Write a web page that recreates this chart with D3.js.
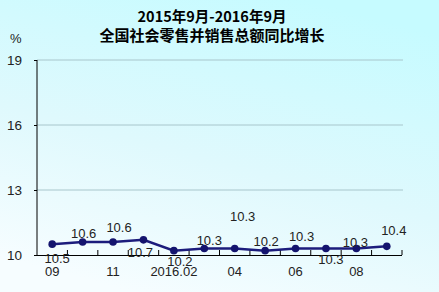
<!DOCTYPE html>
<html>
<head>
<meta charset="utf-8">
<script src="https://cdn.jsdelivr.net/npm/d3@7"></script>
<style>
  html, body { margin: 0; padding: 0; }
  svg { display: block; font-family: "Liberation Sans", Arial, sans-serif; }
</style>
</head>
<body>
<div id="app"></div>
<script>
// data
var months = ['09', '10', '11', '12', '2016.02', '03', '04', '05', '06', '07', '08', '09b'];
var monthLabels = ['09', '', '11', '', '2016.02', '', '04', '', '06', '', '08', ''];
var growth = [10.5, 10.6, 10.6, 10.7, 10.2, 10.3, 10.3, 10.2, 10.3, 10.3, 10.3, 10.4];
var yTicks = [10, 13, 16, 19];
var titleLines = ['2015年9月-2016年9月', '全国社会零售并销售总额同比增长'];

var W = 439, H = 292;
var svg = d3.select('#app').append('svg')
    .attr('width', W)
    .attr('height', H);

var defs = svg.append('defs');
var grad = defs.append('linearGradient')
    .attr('id', 'bg')
    .attr('x1', '0.7').attr('y1', '0')
    .attr('x2', '0.3').attr('y2', '1');
grad.append('stop').attr('offset', '0%').attr('stop-color', '#c6fbff');
grad.append('stop').attr('offset', '55%').attr('stop-color', '#dff9fd');
grad.append('stop').attr('offset', '100%').attr('stop-color', '#f6fdff');
svg.append('rect').attr('width', W).attr('height', H).attr('fill', 'url(#bg)');

var x = d3.scaleBand().domain(months).range([37, 402]);
var y = d3.scaleLinear().domain([10, 19]).range([255, 60]);

// title
svg.selectAll('.title')
    .data(titleLines)
    .enter()
    .append('text')
    .attr('x', 212)
    .attr('y', function (d, i) { return 22 + i * 19; })
    .attr('text-anchor', 'middle')
    .style('font-family', '"Noto Sans CJK SC", "Liberation Sans", sans-serif')
    .style('font-weight', 'bold')
    .style('font-size', function (d, i) { return i ? '15px' : '14.5px'; })
    .text(function (d) { return d; });

svg.append('text')
    .attr('x', 10).attr('y', 43)
    .style('font-size', '13px')
    .attr('fill', '#222')
    .text('%');

// grid
svg.selectAll('.grid')
    .data(yTicks.slice(1))
    .enter()
    .append('line')
    .attr('x1', 37).attr('x2', 403)
    .attr('y1', function (d) { return y(d); })
    .attr('y2', function (d) { return y(d); })
    .attr('stroke', '#a8c6cc')
    .attr('stroke-width', 1);

// y axis
var yAxis = svg.append('g')
    .attr('transform', 'translate(37,0)')
    .call(d3.axisLeft(y).tickValues(yTicks).tickSize(3).tickPadding(12).tickFormat(d3.format('d')));
yAxis.select('.domain').attr('stroke', '#000').attr('d', 'M0,60V255');
yAxis.selectAll('text').style('font-size', '13.5px').attr('fill', '#222');

// x axis: ticks at band boundaries pointing up
var bounds = months.map(function (m) { return x(m) + x.bandwidth(); });
svg.append('line')
    .attr('x1', 37).attr('x2', 402)
    .attr('y1', 255.5).attr('y2', 255.5)
    .attr('stroke', '#000');
svg.selectAll('.xtick')
    .data(bounds)
    .enter()
    .append('line')
    .attr('x1', function (d) { return d; })
    .attr('x2', function (d) { return d; })
    .attr('y1', 255).attr('y2', 250)
    .attr('stroke', '#000');
svg.selectAll('.xlab')
    .data(months)
    .enter()
    .append('text')
    .attr('x', function (d) { return x(d) + x.bandwidth() / 2; })
    .attr('y', 276)
    .attr('text-anchor', 'middle')
    .style('font-size', '13px')
    .attr('fill', '#222')
    .text(function (d, i) { return monthLabels[i]; });

// line
var line = d3.line()
    .x(function (d, i) { return x(months[i]) + x.bandwidth() / 2; })
    .y(function (d) { return y(d); });
svg.append('path')
    .attr('d', line(growth))
    .attr('fill', 'none')
    .attr('stroke', '#1c1c7c')
    .attr('stroke-width', 2.5);
svg.selectAll('.dot')
    .data(growth)
    .enter()
    .append('circle')
    .attr('cx', function (d, i) { return x(months[i]) + x.bandwidth() / 2; })
    .attr('cy', function (d) { return y(d); })
    .attr('r', 3.8)
    .attr('fill', '#14146e');

// value labels, scattered like the original
var labelOffsets = [[5, 14], [1, -9], [6, -15], [-3, 13], [6, 11], [5, -8],
    [8, -32], [1, -9], [6, -12], [5, 11], [-1, -6], [7, -16]];
svg.selectAll('.val')
    .data(growth)
    .enter()
    .append('text')
    .attr('x', function (d, i) { return x(months[i]) + x.bandwidth() / 2 + labelOffsets[i][0]; })
    .attr('y', function (d, i) { return y(d) + labelOffsets[i][1] + 4.5; })
    .attr('text-anchor', 'middle')
    .style('font-size', '13px')
    .attr('fill', '#222')
    .text(function (d) { return d3.format('.1f')(d); });
</script>
</body>
</html>
